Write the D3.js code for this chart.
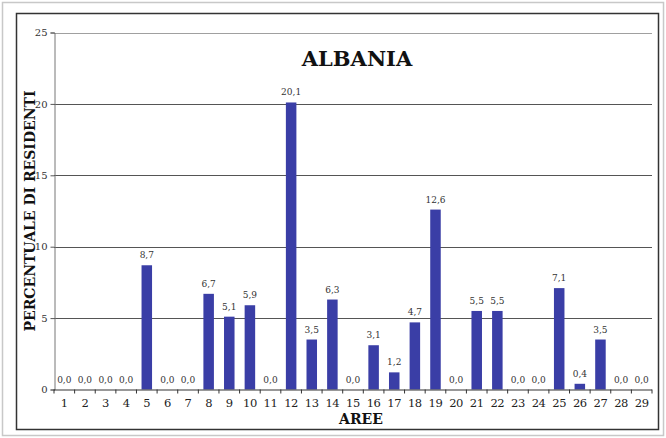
<!DOCTYPE html>
<html><head><meta charset="utf-8">
<script src="https://cdn.jsdelivr.net/npm/d3@7"></script>
<style>body{margin:0;background:#fff}svg{display:block}</style>
</head><body>
<svg id="c" width="666" height="438"></svg>
<script>
const categories = d3.range(1, 30).map(String);
const values = [0,0,0,0,8.7,0,0,6.7,5.1,5.9,0,20.1,3.5,6.3,0,3.1,1.2,4.7,12.6,0,5.5,5.5,0,0,7.1,0.4,3.5,0,0];
const yTicks = [0,5,10,15,20,25];
const title = "ALBANIA";
const yTitle = "PERCENTUALE DI RESIDENTI";
const xTitle = "AREE";

const svg = d3.select("#c");
const serif = "'DejaVu Serif','Liberation Serif',serif";
svg.append("rect").attr("x",2.5).attr("y",2.5).attr("width",661).attr("height",433).attr("fill","none").attr("stroke","#c8c8c8").attr("stroke-width",1.5);
svg.append("rect").attr("x",16.5).attr("y",13.5).attr("width",642).attr("height",416).attr("fill","none").attr("stroke","#333").attr("stroke-width",1.5);

const L=54, R=652, T=32.5, B=389.5;
const x = d3.scaleBand().domain(categories).range([L,R]).paddingInner(0.49).paddingOuter(0.245);
const y = d3.scaleLinear().domain([0,25]).range([B,T]);

// gridlines
svg.append("g").selectAll("line").data(yTicks.filter(d=>d>0)).join("line")
  .attr("x1",L).attr("x2",R).attr("y1",d=>Math.round(y(d))+0.5).attr("y2",d=>Math.round(y(d))+0.5)
  .attr("stroke",d=>d===25?"#a0a0a0":"#555").attr("stroke-width",1);

// y axis
const ya = svg.append("g").attr("transform",`translate(${L+0.5},0)`).call(d3.axisLeft(y).tickValues(yTicks).tickSize(4).tickPadding(3));
ya.select(".domain").attr("stroke","#777");
ya.selectAll(".tick line").attr("stroke","#555");
ya.selectAll("text").attr("font-family",serif).attr("font-size",10).attr("fill","#333");

// bars
svg.append("g").selectAll("rect").data(values).join("rect")
  .attr("x",(d,i)=>x(categories[i])).attr("width",x.bandwidth())
  .attr("y",d=>y(d)).attr("height",d=>B-y(d)).attr("fill","#3a3ea6");

// value labels
svg.append("g").selectAll("text").data(values).join("text")
  .attr("x",(d,i)=>x(categories[i])+x.bandwidth()/2).attr("y",d=>y(d)-7)
  .attr("text-anchor","middle").attr("font-family",serif).attr("font-size",9).attr("fill","#333")
  .text(d=>d.toFixed(1).replace(".",","));

// x axis
const xb = d3.scaleLinear().domain([0,29]).range([L,R]);
svg.append("line").attr("x1",L).attr("x2",R).attr("y1",B+0.5).attr("y2",B+0.5).attr("stroke","#333").attr("stroke-width",1.2);
svg.append("g").selectAll("line").data(d3.range(0,30)).join("line")
  .attr("x1",d=>xb(d)).attr("x2",d=>xb(d)).attr("y1",B).attr("y2",B+4).attr("stroke","#333");
svg.append("g").selectAll("text").data(categories).join("text")
  .attr("x",d=>x(d)+x.bandwidth()/2).attr("y",407).attr("text-anchor","middle")
  .attr("font-family",serif).attr("font-size",11.5).attr("letter-spacing",-0.4).attr("fill","#222").text(d=>d);

// titles
svg.append("text").attr("x",357).attr("y",66).attr("text-anchor","middle").attr("font-family",serif)
  .attr("font-weight","bold").attr("font-size",21).attr("fill","#111").text(title);
svg.append("text").attr("x",361).attr("y",424).attr("text-anchor","middle").attr("font-family",serif)
  .attr("font-weight","bold").attr("font-size",14).attr("fill","#111").text(xTitle);
svg.append("text").attr("transform","translate(35,211) rotate(-90)").attr("text-anchor","middle").attr("font-family",serif)
  .attr("font-weight","bold").attr("font-size",14).attr("fill","#111").text(yTitle);
</script>
</body></html>
